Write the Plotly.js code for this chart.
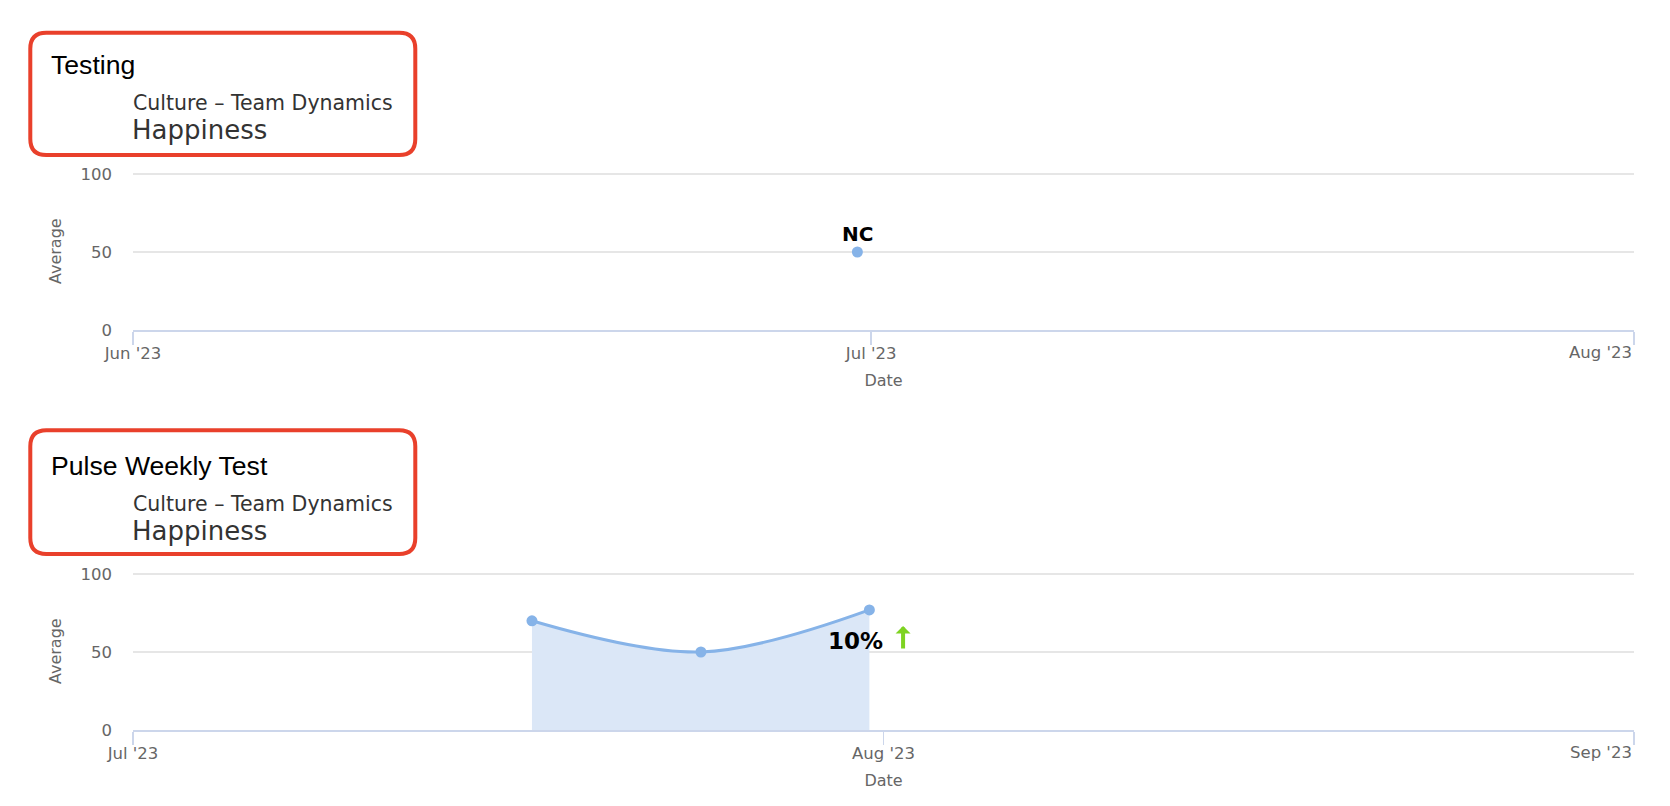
<!DOCTYPE html>
<html>
<head>
<meta charset="utf-8">
<script src="https://cdn.plot.ly/plotly-3.0.1.min.js"></script>
<style>
  html, body { margin: 0; padding: 0; background: #ffffff; }
  #chart { width: 1670px; height: 806px; }
</style>
</head>
<body>
<div id="chart"></div>
<script>
// ---------- data ----------
const topTitle = 'Testing';
const topCategory = 'Culture – Team Dynamics';
const topMetric = 'Happiness';
const topDates = ['2023-06-30 10:30'];
const topValues = [50];
const topPointLabels = ['NC'];
const topTickVals = ['2023-06-01', '2023-07-01', '2023-08-01'];
const topTickText = ["Jun '23", "Jul '23", "Aug '23"];
const topRange = ['2023-06-01', '2023-08-01'];

const bottomTitle = 'Pulse Weekly Test';
const bottomCategory = 'Culture – Team Dynamics';
const bottomMetric = 'Happiness';
const bottomDates = ['2023-07-17 11:30', '2023-07-24 11:00', '2023-07-31 10:00'];
const bottomValues = [70, 50, 77];
const bottomChangeLabel = '10%';
const bottomTickVals = ['2023-07-01', '2023-08-01', '2023-09-01'];
const bottomTickText = ["Jul '23", "Aug '23", "Sep '23"];
const bottomRange = ['2023-07-01', '2023-09-01'];

const yTickVals = [0, 50, 100];
const yTickText = ['0', '50', '100'];
const yMax = 100;

// ---------- helpers ----------
const W = 1670, H = 806;
const px = x => x / W;
const py = y => 1 - y / H;
function roundRectPath(x0, y0, x1, y1, r) {
  const P = (x, y) => px(x).toFixed(5) + ',' + py(y).toFixed(5);
  return 'M' + P(x0 + r, y0) + ' L' + P(x1 - r, y0) + ' Q' + P(x1, y0) + ' ' + P(x1, y0 + r) +
         ' L' + P(x1, y1 - r) + ' Q' + P(x1, y1) + ' ' + P(x1 - r, y1) +
         ' L' + P(x0 + r, y1) + ' Q' + P(x0, y1) + ' ' + P(x0, y1 - r) +
         ' L' + P(x0, y0 + r) + ' Q' + P(x0, y0) + ' ' + P(x0 + r, y0) + ' Z';
}

const seriesColor = '#86b3e8';
const tickFont = { family: 'DejaVu Sans', size: 16.5, color: '#666666' };
const axisTitleFont = { family: 'DejaVu Sans', size: 16, color: '#666666' };

// the last tick label sits inside the plot edge (right-aligned), as in the original,
// so it is drawn as an annotation anchored on its tick value
function xAxis(range, vals, text, anchor) {
  return {
    type: 'date', anchor: anchor,
    domain: [px(133), px(1634)],
    range: range, tickmode: 'array', tickvals: vals,
    ticktext: text.map((t, i) => i === text.length - 1 ? '' : t),
    showgrid: false, zeroline: false,
    showline: true, linecolor: '#ccd6eb', linewidth: 2,
    ticks: 'outside', ticklen: 13, tickwidth: 1.5, tickcolor: '#ccd6eb',
    tickfont: tickFont, ticklabelstandoff: -6,
    title: { text: 'Date', font: axisTitleFont, standoff: 13 },
    fixedrange: true
  };
}
function edgeLabel(xref, vals, text, labelY) {
  return { xref: xref, yref: 'paper', x: vals[vals.length - 1], y: py(labelY),
    xanchor: 'right', yanchor: 'middle', xshift: -1.5, text: text[text.length - 1],
    showarrow: false, borderpad: 0, font: tickFont };
}
// a little headroom above 100 so that the top grid line is drawn, the domain is grown to match
function yAxis(top, bottom, anchor) {
  const head = 0.01;
  return {
    anchor: anchor,
    domain: [py(bottom), py(top - head * (bottom - top))],
    range: [0, yMax * (1 + head)], tickmode: 'array', tickvals: yTickVals, ticktext: yTickText,
    showgrid: true, gridcolor: '#e6e6e6', gridwidth: 1.5,
    zeroline: false, showline: false, ticks: '',
    tickfont: tickFont, ticklabelstandoff: 20,
    title: { text: 'Average', font: axisTitleFont, standoff: 14 },
    fixedrange: true
  };
}

const traces = [
  {
    type: 'scatter', mode: 'markers', xaxis: 'x', yaxis: 'y',
    x: topDates, y: topValues,
    marker: { color: seriesColor, size: 11 },
    hoverinfo: 'skip', showlegend: false
  },
  {
    type: 'scatter', mode: 'lines+markers', xaxis: 'x2', yaxis: 'y2',
    x: bottomDates, y: bottomValues,
    line: { color: seriesColor, width: 3, shape: 'spline', smoothing: 1 },
    marker: { color: seriesColor, size: 11 },
    fill: 'tozeroy', fillcolor: '#dbe7f7',
    hoverinfo: 'skip', showlegend: false
  }
];

function headerAnnotations(title, category, metric, dy) {
  return [
    { xref: 'paper', yref: 'paper', x: px(49.5), y: py(65.2 + dy), xanchor: 'left', yanchor: 'middle',
      text: title, showarrow: false, borderpad: 0,
      font: { family: 'Liberation Sans', size: 26.6, color: '#000000' } },
    { xref: 'paper', yref: 'paper', x: px(132), y: py(103.1 + dy), xanchor: 'left', yanchor: 'middle',
      text: category, showarrow: false, borderpad: 0,
      font: { family: 'DejaVu Sans', size: 20.5, color: '#333333' } },
    { xref: 'paper', yref: 'paper', x: px(130.5), y: py(130.3 + dy), xanchor: 'left', yanchor: 'middle',
      text: metric, showarrow: false, borderpad: 0,
      font: { family: 'DejaVu Sans', size: 26, color: '#333333' } }
  ];
}

const lastIdx = bottomValues.length - 1;
const annotations = [].concat(
  headerAnnotations(topTitle, topCategory, topMetric, 0),
  headerAnnotations(bottomTitle, bottomCategory, bottomMetric, 400.8),
  [
    edgeLabel('x', topTickVals, topTickText, 352.4),
    edgeLabel('x2', bottomTickVals, bottomTickText, 752.4),
    { xref: 'x', yref: 'y', x: topDates[0], y: topValues[0], text: '<b>' + topPointLabels[0] + '</b>',
      showarrow: false, xanchor: 'center', yanchor: 'middle', yshift: 18.5, xshift: 0.5, borderpad: 0,
      font: { family: 'DejaVu Sans', size: 20, color: '#000000' } },
    { xref: 'x2', yref: 'y2', x: bottomDates[lastIdx], y: bottomValues[lastIdx], text: '<b>' + bottomChangeLabel + '</b>',
      showarrow: false, xanchor: 'center', yanchor: 'middle', xshift: -14.3, yshift: -31, borderpad: 0,
      font: { family: 'DejaVu Sans', size: 23, color: '#000000' } },
    { xref: 'x2', yref: 'y2', x: bottomDates[lastIdx], y: bottomValues[lastIdx], text: '',
      showarrow: true, ax: 0, ay: 24, xshift: 33.7, yshift: -16,
      arrowhead: 1, arrowsize: 0.625, arrowwidth: 4, arrowcolor: '#7ed321', standoff: 0, startstandoff: 0 }
  ]
);

const boxStyle = { color: '#e9402b', width: 4 };
const shapes = [
  { type: 'path', xref: 'paper', yref: 'paper', path: roundRectPath(30.3, 32.7, 415.3, 155, 16), line: boxStyle },
  { type: 'path', xref: 'paper', yref: 'paper', path: roundRectPath(30.3, 430.3, 415.3, 554, 16), line: boxStyle }
];

const layout = {
  width: W, height: H,
  margin: { l: 0, r: 0, t: 0, b: 0, pad: 0 },
  paper_bgcolor: '#ffffff', plot_bgcolor: '#ffffff',
  font: { family: 'DejaVu Sans', color: '#333333' },
  showlegend: false, hovermode: false,
  xaxis: xAxis(topRange, topTickVals, topTickText, 'y'),
  yaxis: yAxis(174, 330, 'x'),
  xaxis2: xAxis(bottomRange, bottomTickVals, bottomTickText, 'y2'),
  yaxis2: yAxis(574, 730, 'x2'),
  annotations: annotations,
  shapes: shapes
};

Plotly.newPlot('chart', traces, layout, { displayModeBar: false, staticPlot: true });
</script>
</body>
</html>
